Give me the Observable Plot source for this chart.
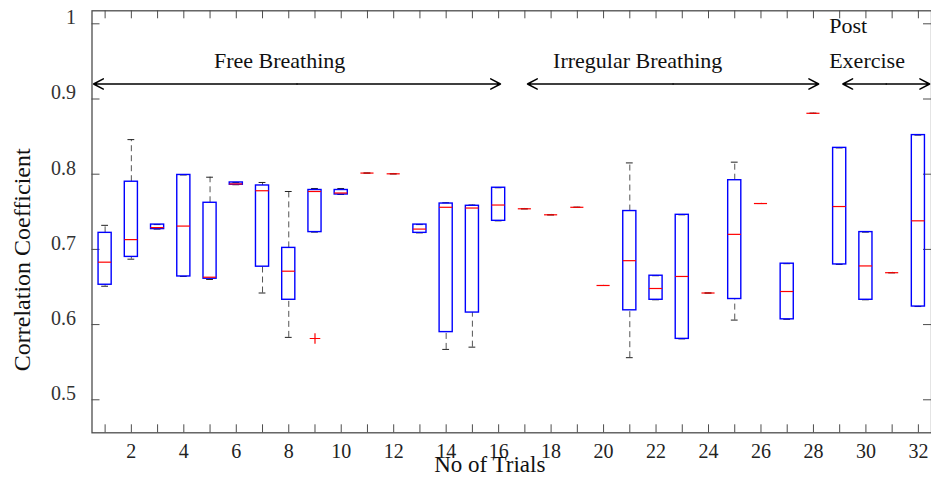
<!DOCTYPE html>
<html>
<head>
<meta charset="utf-8">
<script src="https://cdn.jsdelivr.net/npm/d3@7"></script>
<script src="https://cdn.jsdelivr.net/npm/@observablehq/plot@0.6"></script>
<style>
  html, body { margin: 0; padding: 0; background: #fff; }
  svg { display: block; }
  svg text { font-family: "Liberation Serif", "DejaVu Serif", serif !important; }
</style>
</head>
<body>
<div id="chart"></div>
<script>
// Trial numbers
const trials = [1,2,3,4,5,6,7,8,9,10,11,12,13,14,15,16,17,18,19,20,21,22,23,24,25,26,27,28,29,30,31,32];
// Lower whisker end, first quartile, median, third quartile, upper whisker end
const whiskerLow = [0.651,0.687,0.727,0.664,0.660,0.786,0.642,0.583,0.723,0.773,0.8015,0.8005,0.722,0.567,0.570,0.738,0.754,0.746,0.756,0.652,0.556,0.633,0.581,0.642,0.606,0.761,0.607,0.881,0.680,0.633,0.669,0.624];
const q1         = [0.653,0.690,0.727,0.664,0.661,0.786,0.677,0.633,0.723,0.773,0.8015,0.8005,0.722,0.590,0.616,0.738,0.754,0.746,0.756,0.652,0.619,0.633,0.581,0.642,0.634,0.761,0.607,0.881,0.680,0.633,0.669,0.624];
const median     = [0.683,0.713,0.729,0.731,0.663,0.787,0.778,0.671,0.777,0.775,0.8015,0.8005,0.727,0.756,0.755,0.759,0.754,0.746,0.756,0.652,0.685,0.648,0.664,0.642,0.720,0.761,0.644,0.881,0.757,0.678,0.669,0.738];
const q3         = [0.722,0.790,0.733,0.799,0.762,0.789,0.785,0.702,0.779,0.779,0.8015,0.8005,0.733,0.761,0.758,0.782,0.754,0.746,0.756,0.652,0.751,0.665,0.746,0.642,0.792,0.761,0.681,0.881,0.835,0.723,0.669,0.852];
const whiskerHigh= [0.732,0.846,0.733,0.799,0.796,0.789,0.789,0.777,0.781,0.781,0.8015,0.8005,0.733,0.762,0.759,0.782,0.754,0.746,0.756,0.652,0.815,0.665,0.746,0.642,0.816,0.761,0.681,0.881,0.835,0.723,0.669,0.852];
// Outliers
const outlierTrial = [9];
const outlierValue = [0.5815];

// Axis ticks
const xTicks = [1,2,3,4,5,6,7,8,9,10,11,12,13,14,15,16,17,18,19,20,21,22,23,24,25,26,27,28,29,30,31,32];
const xTickLabels = [2,4,6,8,10,12,14,16,18,20,22,24,26,28,30,32];
const yTicks = [0.5,0.6,0.7,0.8,0.9,1];

// Phase annotations
const centeredLabels = ["Free Breathing", "Irregular Breathing"];
const centeredLabelX = [7.65, 21.3];
const centeredLabelY = [0.950, 0.950];
const leftLabels = ["Post", "Exercise"];
const leftLabelX = [28.6, 28.6];
const leftLabelY = [0.9965, 0.951];
const arrowStart = [0.56, 17.1, 29.12];
const arrowEnd = [16.07, 28.2, 32.43];
const arrowY = 0.920;

const boxes = trials.map((t, i) => ({
  x: t, lo: whiskerLow[i], q1: q1[i], med: median[i], q3: q3[i], hi: whiskerHigh[i]
}));
const outliers = outlierTrial.map((t, i) => ({x: t, y: outlierValue[i]}));
const cLabels = centeredLabels.map((s, i) => ({text: s, x: centeredLabelX[i], y: centeredLabelY[i]}));
const lLabels = leftLabels.map((s, i) => ({text: s, x: leftLabelX[i], y: leftLabelY[i]}));
// each double-headed arrow = two arrows drawn from its midpoint outward
const halfArrows = arrowStart.flatMap((s, i) => {
  const m = (s + arrowEnd[i]) / 2;
  return [{x1: m, x2: s, y: arrowY}, {x1: m, x2: arrowEnd[i], y: arrowY}];
});

const W = 931, H = 480;
const mL = 91.5, mR = 0, mT = 10.3, mB = 47.7;
const innerW = W - mL - mR, innerH = H - mT - mB;
const tickLen = 8;
const halfBox = 0.25, halfCap = 0.13;
const font = "Liberation Serif";
const axisColor = "#4d4d4d";
const fmt = d => String(d);

const chart = Plot.plot({
  width: W,
  height: H,
  marginLeft: mL,
  marginRight: mR,
  marginTop: mT,
  marginBottom: mB,
  style: {fontFamily: font, background: "#fff"},
  x: {domain: [0.5, 32.5], axis: null},
  y: {domain: [0.4561, 1.0173], axis: null},
  marks: [
    Plot.frame({stroke: axisColor, strokeWidth: 1.3}),
    // inward ticks: left, right, bottom, top
    Plot.tickY(yTicks, {y: d => d, stroke: axisColor, insetRight: innerW - tickLen}),
    Plot.tickY(yTicks, {y: d => d, stroke: axisColor, insetLeft: innerW - tickLen}),
    Plot.tickX(xTicks, {x: d => d, stroke: axisColor, insetTop: innerH - tickLen}),
    Plot.tickX(xTicks, {x: d => d, stroke: axisColor, insetBottom: innerH - tickLen}),
    // tick labels
    Plot.axisY(yTicks, {tickSize: 0, tickPadding: 16, fontSize: 20, dy: -6, label: null, fill: "#333", tickFormat: fmt, fontFamily: font}),
    Plot.axisX(xTickLabels, {tickSize: 0, tickPadding: 11, fontSize: 20, label: null, fill: "#222", tickFormat: fmt, fontFamily: font}),
    // axis titles
    Plot.text(["No of Trials"], {frameAnchor: "bottom", textAnchor: "middle", dy: 39, dx: -22, fontSize: 23, fill: "#111", fontFamily: font}),
    Plot.text(["Correlation Coefficient"], {frameAnchor: "left", textAnchor: "middle", rotate: -90, dx: -69.5, dy: 38, fontSize: 24, fill: "#111", fontFamily: font}),
    // whiskers
    Plot.ruleX(boxes, {x: "x", y1: "q3", y2: "hi", stroke: "#555", strokeDasharray: "6,4"}),
    Plot.ruleX(boxes, {x: "x", y1: "lo", y2: "q1", stroke: "#555", strokeDasharray: "6,4"}),
    Plot.ruleY(boxes, {y: "hi", x1: d => d.x - halfCap, x2: d => d.x + halfCap, stroke: "#222"}),
    Plot.ruleY(boxes, {y: "lo", x1: d => d.x - halfCap, x2: d => d.x + halfCap, stroke: "#222"}),
    // boxes
    Plot.rect(boxes, {x1: d => d.x - halfBox, x2: d => d.x + halfBox, y1: "q1", y2: "q3", stroke: "#0000ff", strokeWidth: 1.4, fill: "none"}),
    Plot.ruleY(boxes, {y: "med", x1: d => d.x - halfBox, x2: d => d.x + halfBox, stroke: "#ff0000", strokeWidth: 1.2}),
    // outliers
    Plot.dot(outliers, {x: "x", y: "y", symbol: "plus", r: 3.5, stroke: "#ff0000", strokeWidth: 1.2}),
    // phase annotations
    Plot.arrow(halfArrows, {x1: "x1", x2: "x2", y1: "y", y2: "y", stroke: "#000", strokeWidth: 1.5, headLength: 11, headAngle: 55}),
    Plot.text(cLabels, {x: "x", y: "y", text: "text", textAnchor: "middle", fontSize: 22, fill: "#111", fontFamily: font}),
    Plot.text(lLabels, {x: "x", y: "y", text: "text", textAnchor: "start", fontSize: 22, fill: "#111", fontFamily: font})
  ]
});
document.getElementById("chart").appendChild(chart);
</script>
</body>
</html>
